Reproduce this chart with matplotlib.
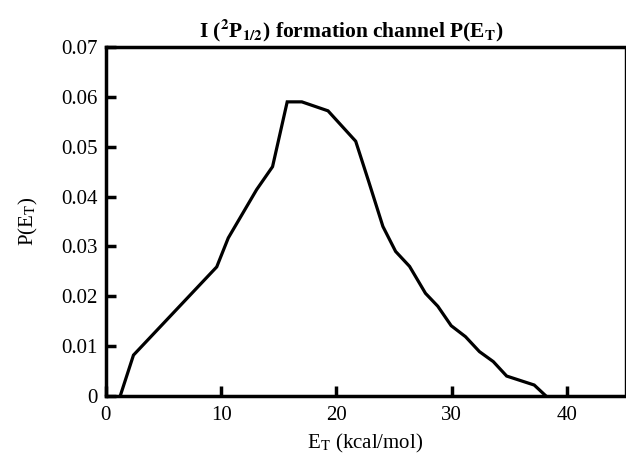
import numpy as np
import matplotlib
matplotlib.use("Agg")
import matplotlib.pyplot as plt
from matplotlib.ticker import FuncFormatter

plt.rcParams['font.family'] = ['Liberation Serif', 'DejaVu Serif']
plt.rcParams['mathtext.fontset'] = 'stix'

# P(E_T)
energy = [1.25, 2.4, 9.62, 10.62, 13.08, 14.46, 15.73, 17.0, 19.27, 21.67,
          22.8, 24.03, 25.13, 26.34, 27.72, 28.79, 29.95, 31.19, 32.4,
          33.6, 34.76, 37.15, 38.17]
prob = [0.0, 0.0082, 0.0259, 0.0317, 0.0414, 0.046, 0.059, 0.059, 0.0572,
        0.0511, 0.043, 0.034, 0.029, 0.026, 0.0206, 0.018, 0.0141, 0.0119,
        0.0089, 0.0069, 0.004, 0.0022, 0.0]

x_ticks = [0, 10, 20, 30, 40]
y_ticks = [0, 0.01, 0.02, 0.03, 0.04, 0.05, 0.06, 0.07]

fig = plt.figure(figsize=(6.26, 4.61), dpi=100)
ax = fig.add_axes([0.169, 0.141, 0.829, 0.757])

ax.plot(energy, prob, color='black', linewidth=2.3, solid_joinstyle='miter')

ax.set_xlim(0, 45)
ax.set_ylim(0, 0.07)
ax.set_xticks(x_ticks)
ax.set_yticks(y_ticks)
ax.yaxis.set_major_formatter(FuncFormatter(lambda v, p: '0' if v == 0 else f'{v:.2f}'))
ax.tick_params(direction='in', length=7, width=2.5, labelsize=15, pad=6)
ax.tick_params(axis='x', pad=7)

for side in ['left', 'bottom', 'top']:
    ax.spines[side].set_linewidth(2.5)
ax.spines['right'].set_linewidth(1.0)

ax.set_title(r'I ($^{\mathbf{2}}$P$_{\mathbf{1/2}}$) formation channel P(E$_{\mathbf{T}}$)',
             fontsize=15.5, fontweight='bold', pad=7, x=0.473)
ax.set_xlabel(r'E$_{\mathrm{T}}$ (kcal/mol)', fontsize=15, labelpad=5)
ax.set_ylabel(r'P(E$_{\mathrm{T}}$)', fontsize=15, labelpad=15)

fig.savefig('out.png', dpi=100)
